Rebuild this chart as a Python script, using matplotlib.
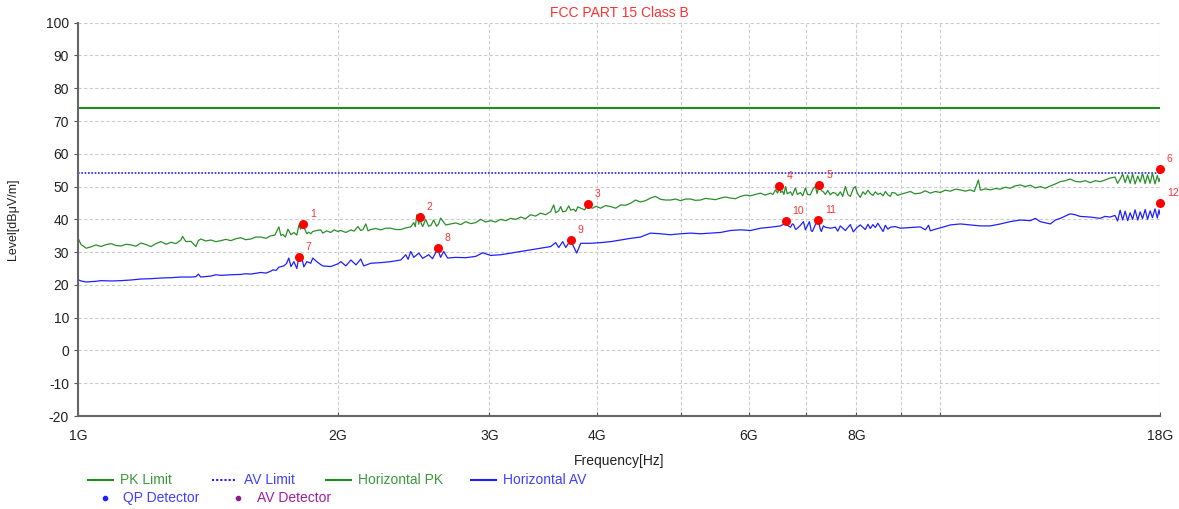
import numpy as np
import matplotlib.pyplot as plt
from matplotlib.lines import Line2D

plt.rcParams['font.family'] = ['Liberation Sans', 'DejaVu Sans']
plt.rcParams['axes.unicode_minus'] = False

# limits (dBuV/m)
pk_limit = 74
av_limit = 54

# horizontal PK trace: frequency (GHz), level (dBuV/m)
pk_freq = [1.000, 1.008, 1.022, 1.035, 1.049, 1.063, 1.078, 1.092, 1.107, 1.122,
           1.137, 1.152, 1.167, 1.183, 1.199, 1.215, 1.231, 1.248, 1.265, 1.282,
           1.299, 1.316, 1.322, 1.334, 1.352, 1.370, 1.379, 1.388, 1.407, 1.426,
           1.445, 1.465, 1.484, 1.504, 1.525, 1.545, 1.565, 1.586, 1.608, 1.630,
           1.652, 1.674, 1.692, 1.710, 1.719, 1.728, 1.740, 1.752, 1.766, 1.780,
           1.794, 1.804, 1.812, 1.823, 1.833, 1.843, 1.852, 1.862, 1.872, 1.892,
           1.912, 1.923, 1.943, 1.964, 1.982, 2.001, 2.018, 2.045, 2.073, 2.090,
           2.112, 2.128, 2.140, 2.157, 2.170, 2.186, 2.215, 2.245, 2.275, 2.306,
           2.337, 2.368, 2.400, 2.432, 2.452, 2.462, 2.472, 2.485, 2.491, 2.501,
           2.511, 2.531, 2.551, 2.568, 2.585, 2.606, 2.620, 2.634, 2.670, 2.706,
           2.743, 2.780, 2.817, 2.855, 2.893, 2.932, 2.970, 3.011, 3.050, 3.093,
           3.135, 3.176, 3.220, 3.262, 3.305, 3.350, 3.395, 3.441, 3.488, 3.535,
           3.563, 3.582, 3.611, 3.630, 3.650, 3.680, 3.709, 3.729, 3.759, 3.779,
           3.800, 3.830, 3.870, 3.902, 3.933, 3.954, 3.990, 4.039, 4.090, 4.149,
           4.205, 4.261, 4.318, 4.375, 4.434, 4.493, 4.553, 4.614, 4.677, 4.740,
           4.803, 4.868, 4.933, 5.000, 5.070, 5.135, 5.200, 5.274, 5.345, 5.417,
           5.490, 5.564, 5.640, 5.714, 5.790, 5.869, 5.950, 6.028, 6.110, 6.191,
           6.270, 6.359, 6.400, 6.444, 6.480, 6.513, 6.531, 6.566, 6.590, 6.619,
           6.650, 6.708, 6.740, 6.797, 6.830, 6.888, 6.930, 6.981, 7.020, 7.074,
           7.120, 7.169, 7.200, 7.245, 7.284, 7.323, 7.362, 7.410, 7.461, 7.510,
           7.561, 7.610, 7.662, 7.710, 7.766, 7.820, 7.870, 7.933, 7.975, 8.018,
           8.082, 8.140, 8.191, 8.250, 8.301, 8.360, 8.414, 8.470, 8.527, 8.590,
           8.642, 8.700, 8.758, 8.800, 8.876, 8.930, 8.995, 9.100, 9.239, 9.350,
           9.489, 9.616, 9.745, 9.876, 10.01, 10.14, 10.28, 10.42, 10.56, 10.70,
           10.84, 10.96, 11.08, 11.14, 11.30, 11.44, 11.60, 11.75, 11.90, 12.06,
           12.22, 12.39, 12.56, 12.73, 12.90, 13.07, 13.25, 13.43, 13.61, 13.79,
           13.98, 14.16, 14.35, 14.54, 14.74, 14.94, 15.14, 15.34, 15.54, 15.75,
           15.96, 16.07, 16.18, 16.29, 16.40, 16.51, 16.62, 16.73, 16.84, 16.96,
           17.07, 17.18, 17.30, 17.41, 17.53, 17.64, 17.76, 17.87, 17.95, 18.00]
pk_level = [34.3, 32.3, 31.2, 31.6, 32.2, 31.7, 32.3, 32.6, 32.0, 31.9,
            32.4, 32.2, 31.8, 32.8, 32.3, 31.7, 32.6, 33.2, 32.4, 33.0,
            32.6, 33.7, 34.8, 33.2, 33.3, 31.7, 33.5, 34.0, 33.4, 33.7,
            33.2, 33.5, 33.9, 33.5, 34.1, 34.4, 33.8, 34.0, 34.6, 34.6,
            34.2, 35.0, 35.2, 37.7, 35.1, 35.4, 34.6, 37.0, 35.3, 36.0,
            35.2, 38.3, 37.0, 38.4, 36.9, 35.6, 36.1, 35.6, 36.3, 36.6,
            36.8, 35.8, 36.5, 36.0, 36.8, 36.3, 36.6, 36.0, 36.8, 36.4,
            37.8, 36.6, 36.8, 38.6, 36.5, 36.9, 37.2, 36.8, 37.3, 37.3,
            36.9, 36.9, 37.4, 37.7, 39.0, 37.8, 41.4, 38.5, 40.6, 38.8,
            37.8, 40.0, 37.9, 38.2, 39.8, 37.9, 38.6, 40.4, 38.3, 38.6,
            38.9, 38.4, 39.3, 38.7, 39.0, 40.0, 39.2, 39.6, 39.2, 40.0,
            39.6, 40.3, 40.0, 40.7, 40.2, 41.4, 41.0, 41.9, 41.4, 42.4,
            44.4, 42.0, 42.6, 43.9, 42.3, 42.5, 44.1, 42.8, 43.1, 42.4,
            43.8, 43.4, 42.9, 44.6, 43.6, 43.4, 44.0, 43.4, 44.2, 43.9,
            43.4, 44.4, 44.3, 44.9, 45.9, 45.3, 45.7, 46.5, 47.0, 46.1,
            45.9, 45.9, 46.2, 45.7, 46.2, 46.2, 45.8, 45.9, 46.4, 46.2,
            46.0, 46.5, 46.8, 46.5, 46.3, 47.0, 47.4, 47.2, 47.6, 48.0,
            47.4, 48.0, 47.6, 49.0, 48.0, 49.8, 48.2, 48.6, 47.6, 50.0,
            47.8, 48.4, 47.3, 49.6, 47.6, 48.2, 47.2, 49.6, 47.6, 47.5,
            49.2, 50.1, 47.9, 50.4, 48.8, 48.4, 47.6, 48.8, 47.5, 48.2,
            48.0, 47.2, 48.4, 47.0, 50.0, 47.6, 47.0, 49.4, 50.0, 48.0,
            46.7, 48.4, 47.6, 48.9, 47.9, 47.3, 48.4, 47.6, 48.0, 47.2,
            48.5, 47.5, 47.0, 48.2, 48.0, 47.3, 47.6, 48.0, 48.5, 47.8,
            48.0, 48.7, 48.0, 48.5, 48.2, 48.9, 48.6, 49.2, 49.0, 48.6,
            49.0, 48.5, 52.0, 48.9, 49.3, 49.0, 49.4, 49.2, 49.8, 49.5,
            50.2, 50.5, 50.0, 50.4, 49.6, 50.0, 49.5, 50.2, 50.8, 51.5,
            51.8, 52.3, 51.6, 51.4, 51.8, 51.2, 51.8, 51.5, 52.0, 52.6,
            52.9, 51.0, 52.3, 53.8, 51.2, 53.5, 51.0, 53.9, 50.8, 53.2,
            51.4, 54.0, 50.9, 53.6, 51.0, 54.1, 50.8, 53.4, 51.5, 52.5]

# horizontal AV trace: frequency (GHz), level (dBuV/m)
av_freq = [1.000, 1.008, 1.022, 1.049, 1.063, 1.092, 1.122, 1.152, 1.183, 1.215,
           1.248, 1.282, 1.316, 1.352, 1.370, 1.379, 1.388, 1.426, 1.445, 1.465,
           1.504, 1.545, 1.565, 1.586, 1.630, 1.652, 1.674, 1.683, 1.697, 1.710,
           1.733, 1.745, 1.756, 1.766, 1.780, 1.794, 1.804, 1.818, 1.828, 1.843,
           1.862, 1.872, 1.892, 1.912, 1.923, 1.964, 2.001, 2.018, 2.045, 2.073,
           2.101, 2.128, 2.145, 2.186, 2.245, 2.306, 2.368, 2.400, 2.415, 2.432,
           2.452, 2.485, 2.511, 2.551, 2.578, 2.613, 2.634, 2.656, 2.684, 2.743,
           2.817, 2.893, 2.948, 3.011, 3.093, 3.176, 3.262, 3.350, 3.441, 3.535,
           3.582, 3.611, 3.650, 3.680, 3.709, 3.729, 3.759, 3.789, 3.830, 3.933,
           4.039, 4.149, 4.261, 4.375, 4.493, 4.614, 4.740, 4.868, 5.000, 5.135,
           5.274, 5.417, 5.564, 5.714, 5.869, 6.028, 6.191, 6.359, 6.531, 6.619,
           6.650, 6.708, 6.740, 6.761, 6.797, 6.815, 6.888, 6.944, 6.981, 7.055,
           7.090, 7.111, 7.169, 7.226, 7.260, 7.284, 7.323, 7.362, 7.461, 7.561,
           7.610, 7.662, 7.766, 7.870, 7.933, 8.018, 8.082, 8.191, 8.250, 8.301,
           8.360, 8.414, 8.470, 8.527, 8.590, 8.642, 8.700, 8.758, 8.876, 8.995,
           9.239, 9.489, 9.616, 9.700, 9.745, 9.876, 10.01, 10.28, 10.56, 10.84,
           11.14, 11.44, 11.75, 12.06, 12.39, 12.73, 12.90, 13.07, 13.43, 13.61,
           13.79, 14.16, 14.35, 14.54, 14.94, 15.34, 15.54, 15.75, 15.96, 16.07,
           16.18, 16.29, 16.40, 16.51, 16.62, 16.73, 16.84, 16.96, 17.07, 17.18,
           17.30, 17.41, 17.53, 17.64, 17.76, 17.87, 17.95, 18.00]
av_level = [21.6, 21.2, 20.9, 21.1, 21.3, 21.2, 21.3, 21.5, 21.8, 21.9,
            22.1, 22.2, 22.4, 22.4, 22.5, 23.3, 22.4, 22.7, 23.1, 22.9,
            23.1, 23.2, 23.4, 23.3, 23.8, 23.6, 24.2, 24.6, 24.4, 25.4,
            25.8, 26.5, 28.2, 25.6, 27.1, 25.0, 28.7, 28.2, 25.5, 27.1,
            26.6, 28.2, 27.1, 26.2, 25.8, 25.6, 26.4, 27.1, 25.8, 27.6,
            26.1, 27.9, 25.8, 26.6, 26.8, 27.1, 27.6, 29.2, 27.8, 30.2,
            28.4, 29.7, 28.1, 29.2, 28.0, 31.0, 28.4, 30.2, 28.2, 28.4,
            28.3, 28.7, 29.8, 29.0, 29.2, 29.7, 30.2, 30.7, 31.2, 31.7,
            32.9, 31.4, 33.2, 31.4, 32.8, 33.4, 31.6, 29.7, 32.7, 32.7,
            32.9, 33.2, 33.7, 34.2, 34.6, 35.8, 35.6, 35.3, 35.6, 35.8,
            35.6, 35.8, 36.0, 36.6, 36.8, 36.6, 37.3, 37.6, 38.0, 38.8,
            38.2, 37.6, 38.6, 38.5, 37.0, 37.0, 38.2, 39.3, 36.8, 39.3,
            36.5, 36.3, 38.4, 39.6, 37.2, 36.3, 38.0, 37.6, 37.3, 37.6,
            36.4, 38.0, 36.6, 38.4, 36.2, 37.6, 38.3, 36.9, 38.5, 37.2,
            38.4, 37.5, 38.8, 37.6, 36.3, 38.2, 37.0, 37.6, 37.8, 37.3,
            37.5, 37.7, 36.8, 38.2, 36.5, 37.0, 37.4, 38.3, 38.6, 38.3,
            38.0, 38.0, 38.6, 39.3, 39.8, 39.6, 40.3, 39.3, 38.6, 39.8,
            40.3, 41.7, 41.4, 40.9, 40.7, 40.3, 40.9, 40.7, 41.2, 39.5,
            42.8, 39.8, 42.5, 39.6, 42.0, 40.0, 42.9, 39.8, 42.3, 40.2,
            43.0, 40.0, 42.6, 40.5, 43.2, 40.4, 42.9, 41.5]

# marker points (numbered)
pk_mark_freq = [1.823, 2.491, 3.902, 6.513, 7.245, 18.0]
pk_mark_level = [38.6, 40.8, 44.8, 50.2, 50.4, 55.4]
av_mark_freq = [1.804, 2.613, 3.729, 6.619, 7.226, 18.0]
av_mark_level = [28.5, 31.2, 33.6, 39.5, 39.8, 45.0]

x_ticks = [1, 2, 3, 4, 5, 6, 7, 8, 9, 10, 18]
x_labels = ['1G', '2G', '3G', '4G', '', '6G', '', '8G', '', '', '18G']

green = '#1e8c1e'
blue = '#2020ff'

fig = plt.figure(figsize=(11.79, 5.09), dpi=100)
ax = fig.add_axes([0.0662, 0.1827, 0.9177, 0.7727])

ax.axhline(pk_limit, color=green, lw=1.5)
ax.axhline(av_limit, color=blue, lw=1.2, ls=(0, (1, 1)))
ax.plot(pk_freq, pk_level, color='#2a8f2a', lw=0.9)
ax.plot(av_freq, av_level, color=blue, lw=0.9)

marks_f = pk_mark_freq + av_mark_freq
marks_v = pk_mark_level + av_mark_level
ax.scatter(marks_f, marks_v, color='#ff0000', s=30, zorder=5, clip_on=False)
for i, (f, v) in enumerate(zip(marks_f, marks_v)):
    ax.annotate(str(i + 1), (f, v), xytext=(5, 5), textcoords='offset points',
                color='#ff3333', fontsize=7.5, annotation_clip=False)

ax.set_xscale('log')
ax.set_xlim(1, 18)
ax.set_ylim(-20, 100)
ax.set_xticks(x_ticks)
ax.set_xticklabels(x_labels)
ax.xaxis.set_minor_locator(plt.NullLocator())
ax.set_yticks(range(-20, 101, 10))
ax.tick_params(axis='x', direction='in', length=3, pad=9, labelsize=10, colors='#555555', labelcolor='#222222')
ax.tick_params(axis='y', direction='out', length=3, labelsize=10, colors='#555555', labelcolor='#222222')
ax.grid(True, color='#cccccc', lw=0.8, ls=(0, (3, 2)))
ax.set_axisbelow(True)
for s in ['top', 'right']:
    ax.spines[s].set_visible(False)
for s in ['left', 'bottom']:
    ax.spines[s].set_color('#666666')
    ax.spines[s].set_linewidth(1.5)

ax.set_title('FCC PART 15 Class B', color='#ff3030', fontsize=10, pad=4)
ax.set_xlabel('Frequency[Hz]', fontsize=10, color='#222222', labelpad=8)
ax.set_ylabel('Level[dBμV/m]', fontsize=9, color='#222222')
ax.yaxis.set_label_coords(-0.055, 0.5)

# legend drawn beneath the plot
W, H = 1179, 509
def leg_line(x, y, color, ls='-'):
    fig.add_artist(Line2D([x / W, (x + 25) / W], [1 - y / H, 1 - y / H],
                          color=color, lw=1.5, ls=ls))

def leg_text(x, y, s, color):
    fig.text(x / W, 1 - y / H, s, color=color, fontsize=10, va='center')

leg_line(88, 480, green); leg_text(120, 480, 'PK Limit', '#3a9a3a')
leg_line(212, 480, blue, (0, (1, 1))); leg_text(244, 480, 'AV Limit', '#4040ff')
leg_line(326, 480, green); leg_text(358, 480, 'Horizontal PK', '#3a9a3a')
leg_line(471, 480, blue); leg_text(503, 480, 'Horizontal AV', '#4040ff')
fig.add_artist(Line2D([105 / W], [1 - 498 / H], marker='o', ms=3, color=blue, ls=''))
leg_text(123, 498, 'QP Detector', '#4040ff')
fig.add_artist(Line2D([238 / W], [1 - 498 / H], marker='o', ms=3, color='#8b1a8b', ls=''))
leg_text(257, 498, 'AV Detector', '#a020a0')

fig.savefig('out.png', dpi=100)
